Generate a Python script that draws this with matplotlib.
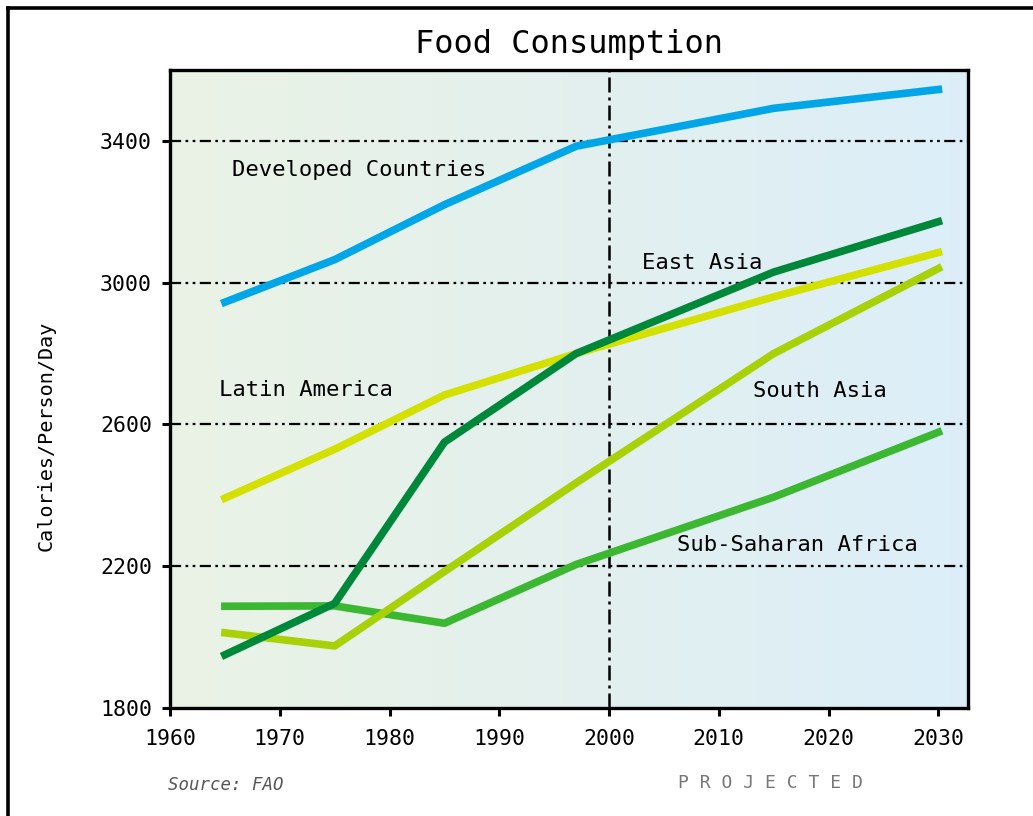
# -*- coding: utf-8 -*-

import numpy as np
import matplotlib
matplotlib.use('Agg')
import matplotlib.pyplot as plt
from matplotlib.lines import Line2D
from matplotlib.colors import LinearSegmentedColormap


# data (kcal per person per day)
years = [1965, 1975, 1985, 1997, 2015, 2030]
developed = [2945, 3065, 3220, 3385, 3492, 3545]
east_asia = [1950, 2095, 2550, 2800, 3030, 3172]
latin_america = [2392, 2530, 2683, 2800, 2960, 3085]
south_asia = [2012, 1975, 2185, 2435, 2800, 3040]
ss_africa = [2087, 2088, 2039, 2205, 2395, 2578]

x_ticks = [1960, 1970, 1980, 1990, 2000, 2010, 2020, 2030]
y_ticks = [1800, 2200, 2600, 3000, 3400]

MONO = 'DejaVu Sans Mono'


def make_graph():
    fig = plt.figure(figsize=(10.33, 8.16), dpi=100)
    ax = fig.add_axes([0.1646, 0.1324, 0.7725, 0.7818])

    # background: green on the left fading to blue on the right
    cmap = LinearSegmentedColormap.from_list(
        'bg', [(0.918, 0.953, 0.898), (0.890, 0.941, 0.933), (0.863, 0.933, 0.976)])
    grad = np.linspace(0, 1, 256).reshape(1, -1)
    ax.imshow(grad, cmap=cmap, aspect='auto', extent=[0, 1, 0, 1],
              transform=ax.transAxes, zorder=0)

    ax.set_xlim(1960, 2032.7)
    ax.set_ylim(1800, 3600)

    # grid lines (dash-dot-dot)
    dash = (5, 2, 1.2, 2, 1.2, 2)
    for v in y_ticks[1:]:
        ax.axhline(v, color='black', lw=1.6, dashes=dash, zorder=1)
    ax.axvline(2000, color='black', lw=1.8, dashes=(6, 2, 1.2, 2), zorder=1)

    lw = 5.5
    ax.plot(years, ss_africa, color='#3CB731', lw=lw, zorder=3)
    ax.plot(years, latin_america, color='#D4E100', lw=lw, zorder=3)
    ax.plot(years, south_asia, color='#A8D108', lw=lw, zorder=4)
    ax.plot(years, east_asia, color='#00883A', lw=lw, zorder=5)
    ax.plot(years, developed, color='#00A6E8', lw=lw, zorder=5)

    # series labels
    lab = dict(fontsize=16, family=MONO, color='black', va='center', ha='left', zorder=6)
    ax.text(1965.6, 3318, 'Developed Countries', **lab)
    ax.text(2003.0, 3055, 'East Asia', **lab)
    ax.text(1964.5, 2697, 'Latin America', **lab)
    ax.text(2013.1, 2694, 'South Asia', **lab)
    ax.text(2006.2, 2260, 'Sub-Saharan Africa', **lab)

    ax.set_xticks(x_ticks)
    ax.set_yticks(y_ticks)
    ax.tick_params(direction='out', length=6, width=2.2, labelsize=15.5, color='black')
    ax.tick_params(axis='x', pad=9)
    ax.tick_params(axis='y', pad=7)
    for t in ax.get_xticklabels() + ax.get_yticklabels():
        t.set_family(MONO)
    for s in ax.spines.values():
        s.set_linewidth(2.4)
        s.set_zorder(7)

    ax.set_title('Food Consumption', fontsize=23, family=MONO, pad=12)

    fig.text(46 / 1033, 1 - 436 / 816, 'Calories/Person/Day', rotation=90,
             fontsize=14.5, family=MONO, ha='center', va='center')
    fig.text(168 / 1033, 1 - 785 / 816, 'Source: FAO', fontsize=12.5, family=MONO,
             style='italic', color='#555555', ha='left', va='center')
    fig.text(678 / 1033, 1 - 783 / 816, 'P R O J E C T E D', fontsize=13, family=MONO,
             color='#777777', ha='left', va='center')

    # frame lines on left and top of the figure
    x0 = 8 / 1033
    y0 = 1 - 8 / 816
    fig.add_artist(Line2D([x0, x0], [0, y0], transform=fig.transFigure, color='black', lw=2.6))
    fig.add_artist(Line2D([x0, 1], [y0, y0], transform=fig.transFigure, color='black', lw=2.6))

    fig.savefig('out.png', dpi=100, facecolor='white')


def main():
    make_graph()


if __name__ == '__main__':
    main()
